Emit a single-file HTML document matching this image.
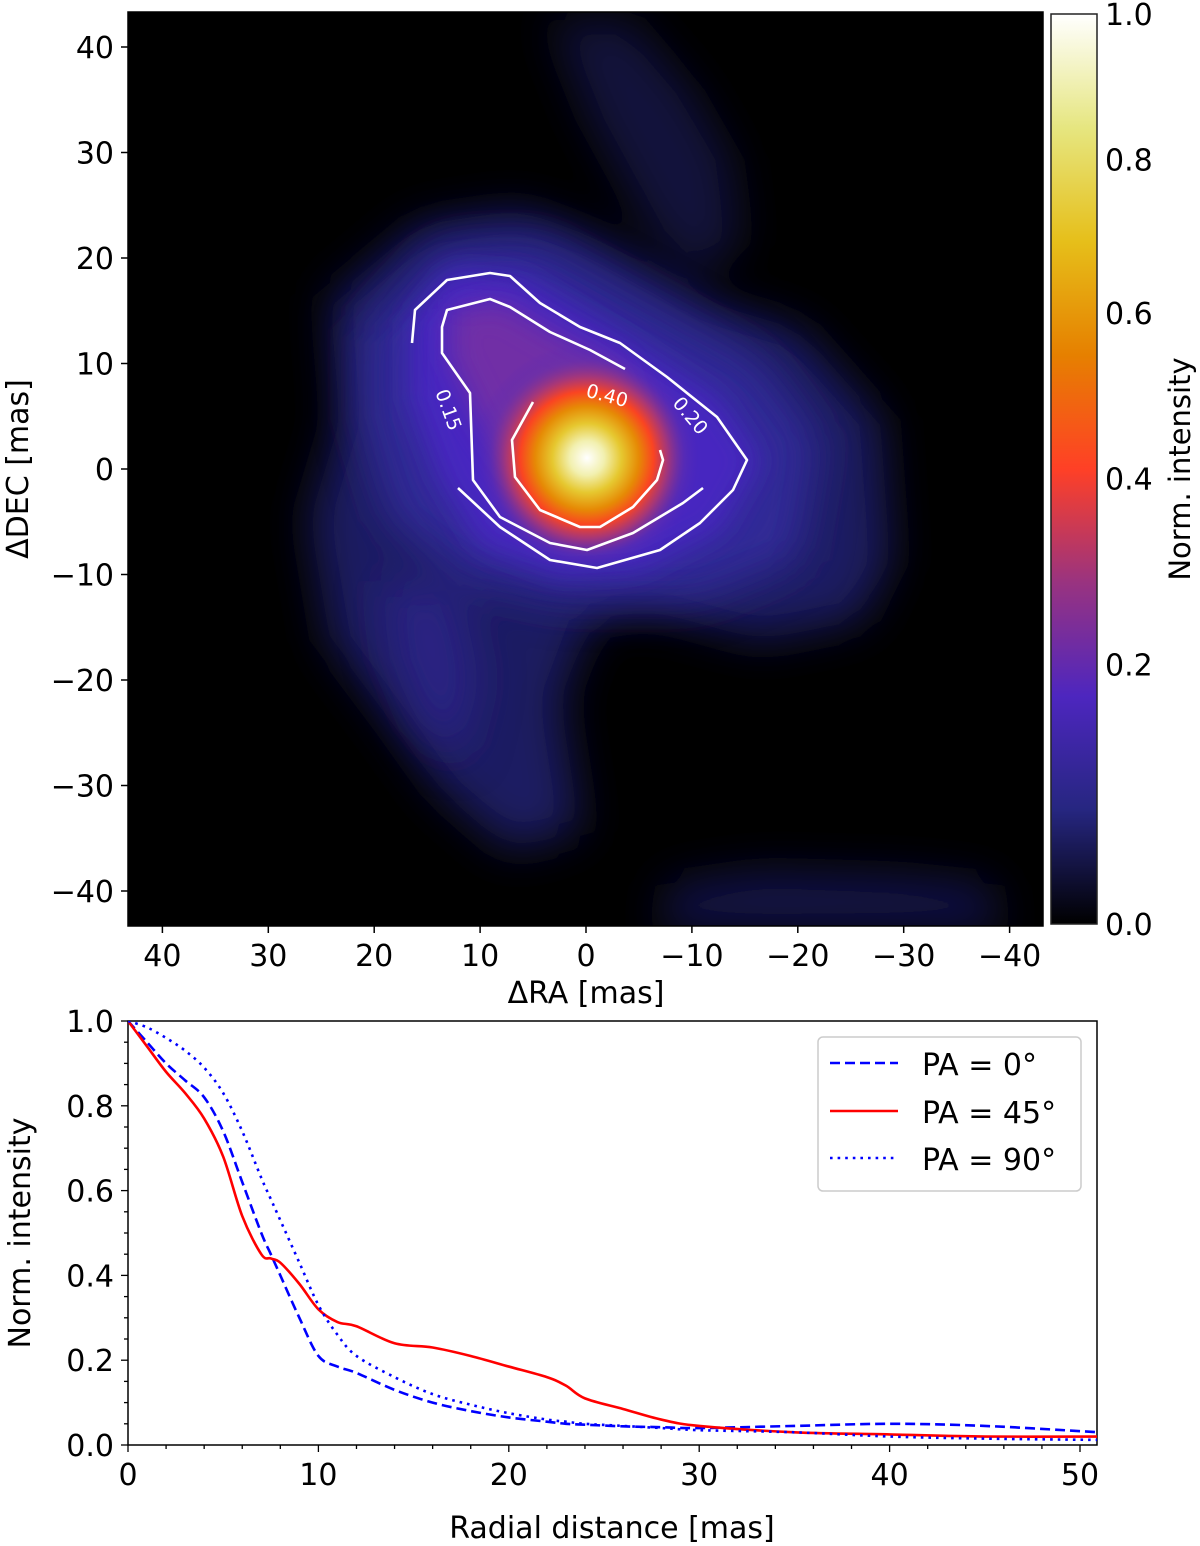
<!DOCTYPE html>
<html><head><meta charset="utf-8"><style>
body{margin:0;background:#fff;}
svg{display:block;font-family:"DejaVu Sans","Liberation Sans",sans-serif;}
</style></head><body>
<svg id="fig" width="1200" height="1546" viewBox="0 0 1200 1546">
<defs>
<filter id="b30" x="-50%" y="-50%" width="200%" height="200%"><feGaussianBlur stdDeviation="22"/></filter>
<filter id="b15" x="-50%" y="-50%" width="200%" height="200%"><feGaussianBlur stdDeviation="14"/></filter>
<radialGradient id="core" cx="587" cy="458" r="115" gradientUnits="userSpaceOnUse">
<stop offset="0" stop-color="#ffffff"/>
<stop offset="0.15" stop-color="#f2f0b0"/>
<stop offset="0.3" stop-color="#e6c830"/>
<stop offset="0.45" stop-color="#e68a05"/>
<stop offset="0.58" stop-color="#fa4422"/>
<stop offset="0.7" stop-color="#b03870" stop-opacity="0.9"/>
<stop offset="0.85" stop-color="#6a30a8" stop-opacity="0.4"/>
<stop offset="1" stop-color="#4d26bf" stop-opacity="0"/>
</radialGradient>
<linearGradient id="cmap" x1="0" y1="1" x2="0" y2="0">
<stop offset="0" stop-color="#000000"/>
<stop offset="0.125" stop-color="#262680"/>
<stop offset="0.25" stop-color="#4d26bf"/>
<stop offset="0.375" stop-color="#993380"/>
<stop offset="0.5" stop-color="#ff4026"/>
<stop offset="0.625" stop-color="#e68000"/>
<stop offset="0.75" stop-color="#e6bf1a"/>
<stop offset="0.875" stop-color="#e6e680"/>
<stop offset="1" stop-color="#ffffff"/>
</linearGradient>
<clipPath id="imgclip"><rect x="128" y="12" width="915" height="914"/></clipPath>
<clipPath id="plotclip"><rect x="128" y="1021" width="969" height="424"/></clipPath>
</defs>

<g clip-path="url(#imgclip)">
<rect x="128" y="12" width="915" height="914" fill="#000"/>
<g filter="url(#b30)" fill="#1e1e62">
<path d="M330,300 L420,225 L520,210 L600,240 L700,300 L800,330 L880,420 L890,560 L860,620 L760,640 L650,610 L590,620 L560,700 L580,830 L510,850 L440,790 L390,720 L330,640 L310,520 L340,420 Z"/>
<path opacity="0.6" d="M550,20 L630,20 L690,90 L730,160 L740,240 L700,280 L650,230 L590,120 Z"/>
<path opacity="0.75" d="M670,885 L760,872 L900,876 L990,885 L1000,930 L660,930 Z"/>
</g>
<g filter="url(#b30)" fill="#302a98">
<path d="M360,330 L440,245 L540,240 L650,300 L760,360 L820,440 L800,560 L700,600 L560,600 L470,580 L390,520 L360,420 Z"/>
<path opacity="0.6" d="M380,580 L460,590 L480,680 L460,760 L420,730 L390,660 Z"/>
</g>
<g filter="url(#b15)" fill="#4626c0">
<path d="M410,320 L450,270 L520,275 L620,335 L720,400 L760,460 L720,530 L640,570 L560,575 L480,545 L440,480 L410,400 Z"/>
</g>
<g filter="url(#b15)" fill="#7c32a0" opacity="0.8">
<path d="M450,310 L500,300 L560,335 L620,365 L640,420 L600,470 L520,480 L480,420 L450,360 Z"/>
</g>
<circle cx="587" cy="458" r="115" fill="url(#core)"/>
<g fill="none" stroke="#fff" stroke-width="2.6" stroke-linejoin="round">
<polyline points="412,343 415,310 447,280 490,273 510,276 540,303 580,327 620,343 667,377 717,417 747,460 733,490 700,523 660,550 597,568 550,560 500,527 458,488"/>
<polyline points="625,369 590,350 550,332 510,307 490,299 447,310 442,327 442,353 470,393 473,480 500,517 550,543 587,550 633,533 683,503 703,488"/>
<polyline points="533,402 512,440 515,477 540,510 580,527 600,527 633,507 657,480 663,460 660,450"/>
</g>
<g fill="#fff" font-size="19" text-anchor="middle">
<text x="607" y="402" transform="rotate(15 607 396)">0.40</text>
<text x="690" y="422" transform="rotate(50 690 416)">0.20</text>
<text x="448" y="416" transform="rotate(70 448 410)">0.15</text>
</g>
</g>
<rect x="128" y="12" width="915" height="914" fill="none" stroke="#000" stroke-width="1.5"/>
<g id="topaxes"></g>

<rect x="1051" y="14" width="46" height="910" fill="url(#cmap)" stroke="#222" stroke-width="1.5"/>
<g id="cbticks" font-size="30"></g>
<text x="1190" y="469" font-size="29" text-anchor="middle" transform="rotate(-90 1190 469)">Norm. intensity</text>
<text x="586" y="1003" font-size="30" text-anchor="middle">ΔRA [mas]</text>
<text x="28" y="469" font-size="30" text-anchor="middle" transform="rotate(-90 28 469)">ΔDEC [mas]</text>

<g id="bottom">
<rect x="128" y="1021" width="969" height="424" fill="#fff" stroke="#000" stroke-width="1.5"/>
<g id="curves" clip-path="url(#plotclip)"></g>
<g id="botaxes"></g>
<text x="612" y="1538" font-size="30" text-anchor="middle">Radial distance [mas]</text>
<text x="30" y="1233" font-size="30" text-anchor="middle" transform="rotate(-90 30 1233)">Norm. intensity</text>
<g>
<rect x="818" y="1037" width="263" height="154" rx="5" fill="#fff" stroke="#ccc" stroke-width="1.5"/>
<line x1="830" y1="1063" x2="898" y2="1063" stroke="#0000ff" stroke-width="2.6" stroke-dasharray="10,5"/>
<line x1="830" y1="1111" x2="898" y2="1111" stroke="#ff0000" stroke-width="2.6"/>
<line x1="830" y1="1158" x2="898" y2="1158" stroke="#0000ff" stroke-width="2.6" stroke-dasharray="2.6,5"/>
<text x="922" y="1075" font-size="30">PA = 0°</text>
<text x="922" y="1123" font-size="30">PA = 45°</text>
<text x="922" y="1170" font-size="30">PA = 90°</text>
</g>
</g>
</svg>
<script>
const topXTicks=[40,30,20,10,0,-10,-20,-30,-40];
const topYTicks=[40,30,20,10,0,-10,-20,-30,-40];
const cbTicks=[0.0,0.2,0.4,0.6,0.8,1.0];
const botXTicks=[0,10,20,30,40,50];
const botYTicks=[0.0,0.2,0.4,0.6,0.8,1.0];
const radius=[0,1,2,3,4,5,6,7,7.5,8,9,10,11,12,14,16,18,20,22,23,24,26,28,30,35,40,45,51];
const pa0=[1.0,0.95,0.90,0.86,0.82,0.74,0.62,0.50,0.45,0.40,0.30,0.21,0.185,0.17,0.13,0.10,0.08,0.065,0.055,0.05,0.048,0.044,0.042,0.04,0.045,0.05,0.045,0.03];
const pa45=[1.0,0.94,0.88,0.83,0.77,0.68,0.54,0.45,0.44,0.43,0.38,0.32,0.29,0.28,0.24,0.23,0.21,0.185,0.16,0.14,0.11,0.085,0.06,0.045,0.03,0.025,0.02,0.02];
const pa90=[1.0,0.985,0.96,0.93,0.89,0.83,0.74,0.63,0.58,0.53,0.43,0.33,0.26,0.21,0.16,0.12,0.095,0.075,0.06,0.055,0.05,0.045,0.04,0.035,0.03,0.02,0.015,0.012];

const NS='http://www.w3.org/2000/svg';
function mk(tag,attrs,parent,txt){const e=document.createElementNS(NS,tag);for(const k in attrs)e.setAttribute(k,attrs[k]);if(txt!==undefined)e.textContent=txt;parent.appendChild(e);return e;}
const fmt=v=>(v<0?'\u2212'+Math.abs(v):''+v);
const tx=v=>586-v*10.59, ty=v=>469-v*10.55;
const cy=v=>924-Math.pow(v,0.78)*910;
const bx=v=>128+v*19.04, by=v=>1445-v*424;

const ta=document.getElementById('topaxes');
topXTicks.forEach(v=>{
  const l=mk('line',{x1:tx(v),y1:926,x2:tx(v),y2:933,stroke:'#000','stroke-width':1.5},ta);
  
  
  const t=mk('text',{x:tx(v),y:966,'font-size':30,'text-anchor':'middle'},ta,fmt(v));
  
  
});
topYTicks.forEach(v=>{
  const l=mk('line',{x1:121,y1:ty(v),x2:128,y2:ty(v),stroke:'#000','stroke-width':1.5},ta);
  
  
  const t=mk('text',{x:114,y:ty(v)+11,'font-size':30,'text-anchor':'end'},ta,fmt(v));
  
  
});
const cb=document.getElementById('cbticks');
cbTicks.forEach(v=>{
  const t=mk('text',{x:1105,y:cy(v)+11},cb,v.toFixed(1));
  
  
});
const ba=document.getElementById('botaxes');
for(let v=0;v<=51;v+=2){
  const major=v%10===0;
  const l=mk('line',{x1:bx(v),y1:1445,x2:bx(v),y2:1445+(major?7:4),stroke:'#000','stroke-width':1.3},ba);
  
  
}
botXTicks.forEach(v=>{
  const t=mk('text',{x:bx(v),y:1485,'font-size':30,'text-anchor':'middle'},ba,''+v);
  
  
});
for(let i=0;i<=20;i++){
  const v=i*0.05, major=i%4===0;
  const l=mk('line',{x1:128-(major?7:4),y1:by(v),x2:128,y2:by(v),stroke:'#000','stroke-width':1.3},ba);
  
  
}
botYTicks.forEach(v=>{
  const t=mk('text',{x:114,y:by(v)+11,'font-size':30,'text-anchor':'end'},ba,v.toFixed(1));
  
  
});
function smooth(xs,ys){
  const p=xs.map((x,i)=>[bx(x),by(ys[i])]);
  let d='M'+p[0][0]+','+p[0][1];
  for(let i=0;i<p.length-1;i++){
    const p0=p[Math.max(0,i-1)],p1=p[i],p2=p[i+1],p3=p[Math.min(p.length-1,i+2)];
    const c1=[p1[0]+(p2[0]-p0[0])/6,p1[1]+(p2[1]-p0[1])/6];
    const c2=[p2[0]-(p3[0]-p1[0])/6,p2[1]-(p3[1]-p1[1])/6];
    d+=' C'+c1+' '+c2+' '+p2;
  }
  return d;
}
const cv=document.getElementById('curves');
const s0=mk('path',{d:smooth(radius,pa0),fill:'none',stroke:'#0000ff','stroke-width':2.6,'stroke-dasharray':'10,5'},cv);


const s45=mk('path',{d:smooth(radius,pa45),fill:'none',stroke:'#ff0000','stroke-width':2.6},cv);


const s90=mk('path',{d:smooth(radius,pa90),fill:'none',stroke:'#0000ff','stroke-width':2.6,'stroke-dasharray':'2.6,5'},cv);


</script>
</body></html>
